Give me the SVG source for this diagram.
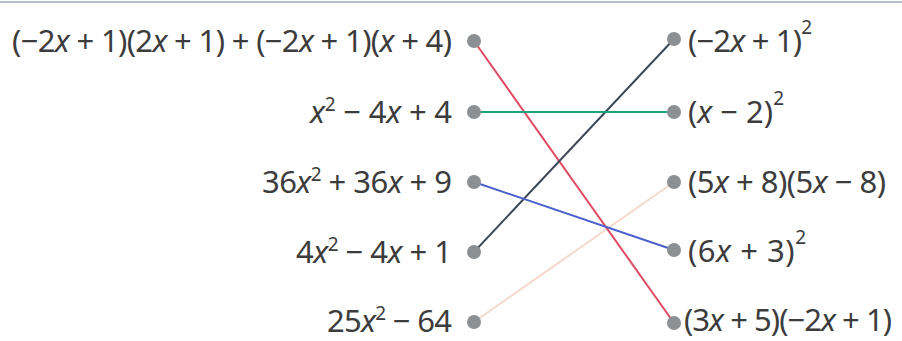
<svg xmlns="http://www.w3.org/2000/svg" width="902" height="341" viewBox="0 0 902 341">
<style>
text{font-family:"Noto Sans","Open Sans",sans-serif;font-size:31px;fill:#3c3c3c}
.i{font-style:italic}
.s{font-size:19px}
.dot{fill:#8c9093}
.c{stroke-width:2;fill:none}
</style>
<rect width="902" height="341" fill="#ffffff"/>
<line x1="0" y1="2" x2="902" y2="2" stroke="#b9bfcc" stroke-width="2"/>
<g id="connectors">
<line class="c" x1="474" y1="322" x2="674" y2="182" stroke="#f6d9cc" stroke-width="3"/>
<line class="c" x1="474" y1="41" x2="674" y2="323" stroke="#e04a62"/>
<line class="c" x1="474" y1="252" x2="674" y2="39" stroke="#3d4856"/>
<line class="c" x1="474" y1="112" x2="674" y2="112" stroke="#1fa27a"/>
<line class="c" x1="474" y1="182" x2="674" y2="250" stroke="#4a60cc"/>
</g>
<g id="L1"><text x="452" y="52" text-anchor="end" textLength="440">(−2<tspan class="i">x</tspan> + 1)(2<tspan class="i">x</tspan> + 1) + (−2<tspan class="i">x</tspan> + 1)(<tspan class="i">x</tspan> + 4)</text><circle class="dot" cx="474" cy="41" r="7"/></g>
<g id="L2"><text x="452" y="123" text-anchor="end" textLength="142"><tspan class="i">x</tspan><tspan class="s" dy="-12">2</tspan><tspan dy="12"> − 4</tspan><tspan class="i">x</tspan> + 4</text><circle class="dot" cx="474" cy="112" r="7"/></g>
<g id="L3"><text x="452" y="193" text-anchor="end" textLength="190">36<tspan class="i">x</tspan><tspan class="s" dy="-12">2</tspan><tspan dy="12"> + 36</tspan><tspan class="i">x</tspan> + 9</text><circle class="dot" cx="474" cy="182" r="7"/></g>
<g id="L4"><text x="452" y="263" text-anchor="end" textLength="156">4<tspan class="i">x</tspan><tspan class="s" dy="-12">2</tspan><tspan dy="12"> − 4</tspan><tspan class="i">x</tspan> + 1</text><circle class="dot" cx="474" cy="252" r="7"/></g>
<g id="L5"><text x="452" y="332" text-anchor="end" textLength="125">25<tspan class="i">x</tspan><tspan class="s" dy="-12">2</tspan><tspan dy="12"> − 64</tspan></text><circle class="dot" cx="474" cy="322" r="7"/></g>
<g id="R1"><circle class="dot" cx="674" cy="39" r="7"/><text x="688" y="52" textLength="124">(−2<tspan class="i">x</tspan> + 1)<tspan class="s" dy="-18">2</tspan></text></g>
<g id="R2"><circle class="dot" cx="674" cy="112" r="7"/><text x="688" y="123" textLength="96">(<tspan class="i">x</tspan> − 2)<tspan class="s" dy="-18">2</tspan></text></g>
<g id="R3"><circle class="dot" cx="674" cy="182" r="7"/><text x="688" y="193" textLength="198">(5<tspan class="i">x</tspan> + 8)(5<tspan class="i">x</tspan> − 8)</text></g>
<g id="R4"><circle class="dot" cx="674" cy="250" r="7"/><text x="688" y="262" textLength="118">(6<tspan class="i">x</tspan> + 3)<tspan class="s" dy="-18">2</tspan></text></g>
<g id="R5"><circle class="dot" cx="674" cy="323" r="7"/><text x="684" y="331" textLength="208">(3<tspan class="i">x</tspan> + 5)(−2<tspan class="i">x</tspan> + 1)</text></g>
</svg>
